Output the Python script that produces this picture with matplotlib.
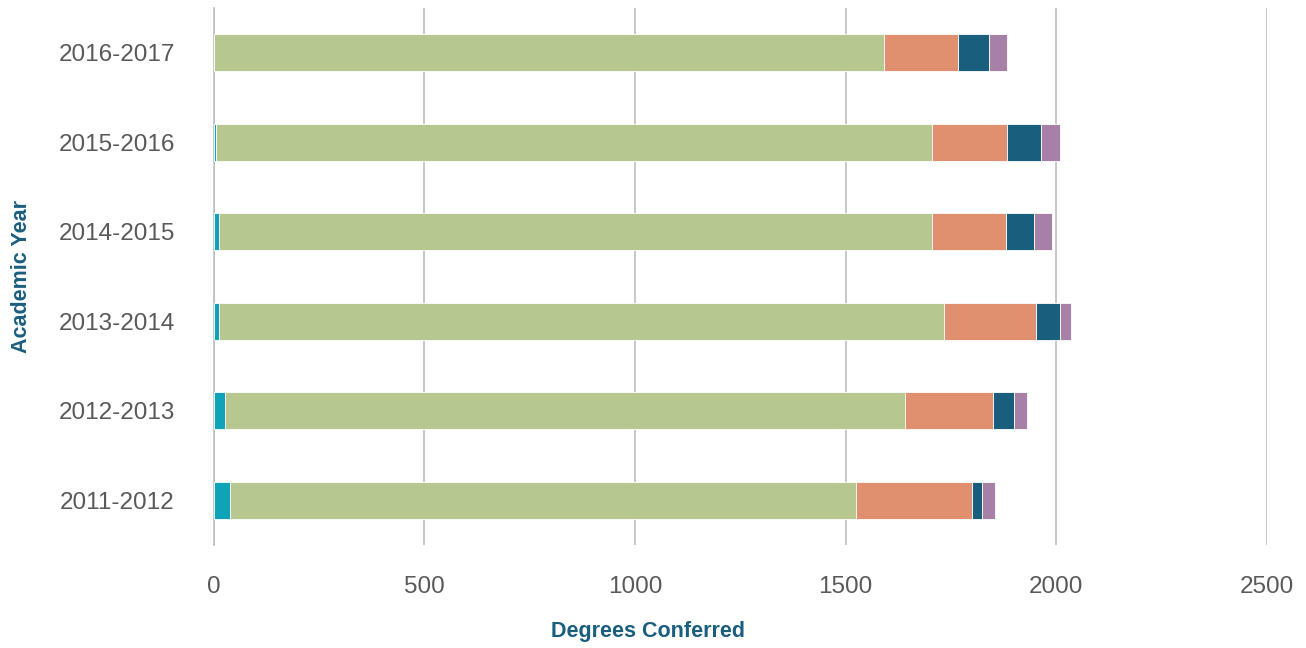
import matplotlib
matplotlib.use('Agg')
import matplotlib.pyplot as plt
import numpy as np

# degrees conferred per academic year, stacked segments
years = ['2011-2012', '2012-2013', '2013-2014', '2014-2015', '2015-2016', '2016-2017']
seg1 = [39, 27, 14, 14, 5, 0]
seg2 = [1485, 1614, 1719, 1691, 1700, 1591]
seg3 = [276, 209, 218, 175, 179, 176]
seg4 = [24, 50, 58, 68, 80, 74]
seg5 = [31, 30, 26, 41, 46, 43]

colors = ['#0fa3b8', '#b6c78f', '#e0906e', '#1a5e7e', '#a780a8']

plt.rcParams['font.family'] = ['Liberation Sans', 'DejaVu Sans']

fig = plt.figure(figsize=(13.06, 6.48), dpi=100)
ax = fig.add_axes([0.1635, 0.159, 0.8066, 0.8287])

y = np.arange(len(years))
left = np.zeros(len(years))
for vals, c in zip([seg1, seg2, seg3, seg4, seg5], colors):
    ax.barh(y, vals, left=left, height=0.41, color=c, edgecolor='white', linewidth=0.6, zorder=3)
    left += np.array(vals)

ax.set_xlim(0, 2500)
ax.set_ylim(-0.5, 5.5)
ax.set_yticks(y)
ax.set_yticklabels(years)
ax.set_xticks([0, 500, 1000, 1500, 2000, 2500])
ax.tick_params(axis='both', length=0, labelsize=17.5, labelcolor='#595959')
ax.tick_params(axis='x', pad=22)
ax.tick_params(axis='y', pad=28)
ax.grid(axis='x', color='#bfbfbf', linewidth=1.2, zorder=0)
for s in ['top', 'right', 'bottom']:
    ax.spines[s].set_visible(False)
ax.spines['left'].set_color('#bfbfbf')
ax.spines['left'].set_linewidth(1.2)

fig.text(0.4965, 0.0095, 'Degrees Conferred', ha='center', va='bottom', fontsize=15.5,
         fontweight='bold', color='#1a5e7e')
fig.text(0.0165, 0.573, 'Academic Year', ha='center', va='center', rotation=90, fontsize=15.5,
         fontweight='bold', color='#1a5e7e')

fig.savefig('out.png', dpi=100)
